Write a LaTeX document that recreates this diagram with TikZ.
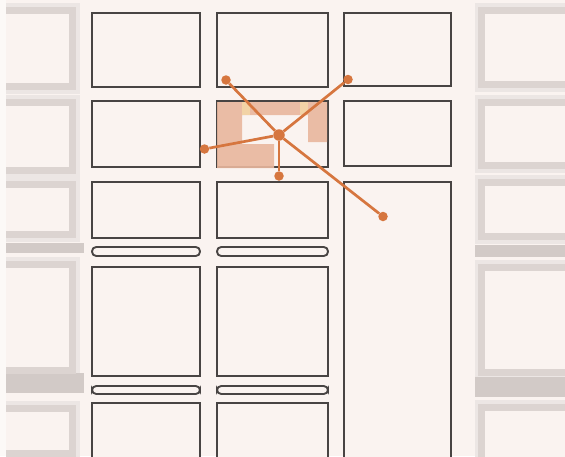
\documentclass[tikz,border=0pt]{standalone}
\definecolor{bgc}{RGB}{250,243,240}
\definecolor{edgec}{RGB}{252,249,247}
\definecolor{blurA}{RGB}{220,212,209}
\definecolor{blurL}{RGB}{236,230,228}
\definecolor{blurB}{RGB}{210,202,199}
\definecolor{outl}{RGB}{72,68,67}
\definecolor{orng}{RGB}{214,118,63}
\definecolor{salm}{RGB}{233,183,157}
\definecolor{yel}{RGB}{242,211,166}
\tikzset{
  blk/.style={draw=outl, line width=1.9pt, fill=bgc},
  pill/.style={draw=outl, line width=1.9pt, fill=bgc, rounded corners=4.2pt},
  blurhalo/.style={draw=blurL, line width=15pt},
  blurblk/.style={draw=blurA, line width=7pt, fill=bgc},
  blurband/.style={fill=blurB, draw=none},
  hubdot/.style={circle, fill=orng, inner sep=0pt, minimum size=11.5pt},
  enddot/.style={circle, fill=orng, inner sep=0pt, minimum size=9.5pt},
  link/.style={draw=orng, line width=2.7pt}
}
\begin{document}
\begin{tikzpicture}[x=1pt,y=-1pt]
\useasboundingbox (0,0) rectangle (565,456);
\fill[bgc] (0,0) rectangle (565,456);
\fill[edgec] (0,0) rectangle (6,456);
% left blurred blocks
\begin{scope}
\clip (6,0) rectangle (84,456);
\foreach \ya/\yb in {10/86,102/170,184/234,264/370,408/453}
  \draw[blurhalo] (-10,\ya) rectangle (72,\yb);
\fill[blurband] (0,243) rectangle (84,253);
\fill[blurband] (0,373) rectangle (84,393);
\foreach \ya/\yb in {10/86,102/170,184/234,264/370,408/453}
  \draw[blurblk] (-10,\ya) rectangle (72,\yb);
\end{scope}
% right blurred blocks
\begin{scope}
\clip (475,0) rectangle (565,456);
\foreach \ya/\yb in {10/84,102/165,182/236,267/372,407/470}
  \draw[blurhalo] (481,\ya) rectangle (580,\yb);
\fill[blurband] (475,245) rectangle (565,257);
\fill[blurband] (475,377) rectangle (565,397);
\foreach \ya/\yb in {10/84,102/165,182/236,267/372,407/470}
  \draw[blurblk] (481,\ya) rectangle (580,\yb);
\end{scope}
% column 1
\draw[blk] (92,13) rectangle (200,87);
\draw[blk] (92,101) rectangle (200,167);
\draw[blk] (92,182) rectangle (200,238);
\draw[pill] (92,247) rectangle (200,256);
\draw[blk] (92,267) rectangle (200,376);
\draw[pill] (92,386) rectangle (200,394);
\draw[blk] (92,403) rectangle (200,462);
% column 2
\draw[blk] (217,13) rectangle (328,87);
\draw[blk] (217,101) rectangle (328,167);
\draw[blk] (217,182) rectangle (328,238);
\draw[pill] (217,247) rectangle (328,256);
\draw[blk] (217,267) rectangle (328,376);
\draw[pill] (217,386) rectangle (328,394);
\draw[blk] (217,403) rectangle (328,462);
% column 3
\draw[blk] (344,13) rectangle (451,86);
\draw[blk] (344,101) rectangle (451,166);
\draw[blk] (344,182) rectangle (451,462);
% highlighted area
\fill[salm, opacity=0.9] (217,102) -- (327,102) -- (327,142) -- (308,142) -- (308,115)
  -- (242,115) -- (242,144) -- (274,144) -- (274,168) -- (217,168) -- cycle;
\fill[yel] (242,102) rectangle (250,115);
\fill[yel] (300,102) rectangle (308,115);
% graph
\node[hubdot] (hub) at (279,135) {};
\node[enddot] (nw) at (226,80) {};
\node[enddot] (ne) at (348,79.5) {};
\node[enddot] (w) at (204.5,149) {};
\node[enddot] (s) at (279,176) {};
\node[enddot] (se) at (383,216.5) {};
\draw[link] (hub) -- (nw);
\draw[link] (hub) -- (ne);
\draw[link] (hub) -- (w);
\draw[link] (hub) -- (s);
\draw[link] (hub) -- (se);
\end{tikzpicture}
\end{document}
